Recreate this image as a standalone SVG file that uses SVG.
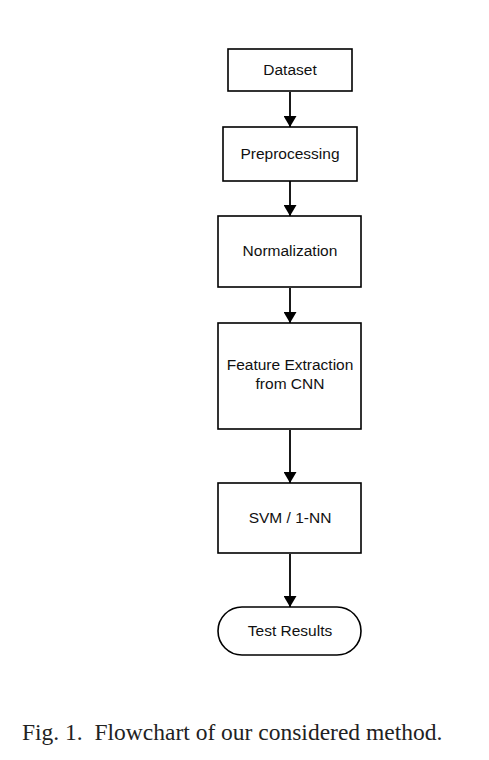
<svg xmlns="http://www.w3.org/2000/svg" width="489" height="760" viewBox="0 0 489 760">
<style>
.box{fill:#fff;stroke:#000;stroke-width:1.6}
.lbl{font-family:"Liberation Sans",Arial,sans-serif;font-size:15.5px;fill:#111;text-anchor:middle}
.edge{stroke:#000;stroke-width:1.8;fill:none;marker-end:url(#ah)}
.cap{font-family:"Liberation Serif","Times New Roman",serif;font-size:23.5px;fill:#222}
</style>
<defs>
<marker id="ah" viewBox="0 0 11 13" refX="11" refY="6.5" markerWidth="11" markerHeight="13" markerUnits="userSpaceOnUse" orient="auto">
<path d="M0,0 L11,6.5 L0,13 Z" fill="#000"/>
</marker>
</defs>
<rect width="489" height="760" fill="#fff"/>
<g id="connectors">
<line class="edge" x1="290" y1="92" x2="290" y2="127"/>
<line class="edge" x1="290" y1="181" x2="290" y2="216"/>
<line class="edge" x1="290" y1="288" x2="290" y2="323"/>
<line class="edge" x1="290" y1="430" x2="290" y2="483"/>
<line class="edge" x1="290" y1="554" x2="290" y2="607"/>
</g>
<g id="dataset"><rect class="box" x="228" y="49" width="124" height="42"/><text class="lbl" x="290" y="74.5">Dataset</text></g>
<g id="preprocessing"><rect class="box" x="223" y="127" width="134" height="54"/><text class="lbl" x="290" y="158.5">Preprocessing</text></g>
<g id="normalization"><rect class="box" x="218" y="216" width="143" height="71"/><text class="lbl" x="290" y="255.5">Normalization</text></g>
<g id="feature"><rect class="box" x="218" y="323" width="143" height="106"/><text class="lbl" x="290" y="370">Feature Extraction</text><text class="lbl" x="290" y="389">from CNN</text></g>
<g id="svm"><rect class="box" x="218" y="483" width="143" height="70"/><text class="lbl" x="290" y="522.5">SVM / 1-NN</text></g>
<g id="results"><rect class="box" x="218" y="607" width="143" height="48" rx="24" ry="24"/><text class="lbl" x="290" y="636">Test Results</text></g>
<text class="cap" x="22" y="739.5" xml:space="preserve">Fig. 1.  Flowchart of our considered method.</text>
</svg>
